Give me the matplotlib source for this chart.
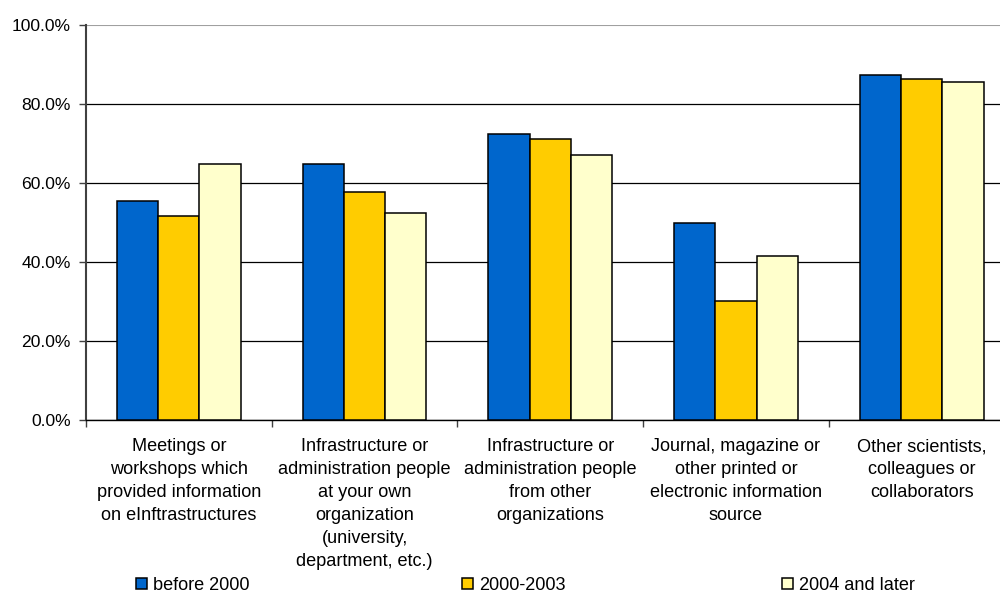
import matplotlib
matplotlib.use("Agg")
import matplotlib.pyplot as plt
import numpy as np
from matplotlib.ticker import FuncFormatter

plt.rcParams['font.family'] = ['Liberation Sans', 'DejaVu Sans']

categories = [
    "Meetings or\nworkshops which\nprovided information\non eInftrastructures",
    "Infrastructure or\nadministration people\nat your own\norganization\n(university,\ndepartment, etc.)",
    "Infrastructure or\nadministration people\nfrom other\norganizations",
    "Journal, magazine or\nother printed or\nelectronic information\nsource",
    "Other scientists,\ncolleagues or\ncollaborators",
]
series_names = ["before 2000", "2000-2003", "2004 and later"]
before_2000 = [55.5, 64.9, 72.4, 49.9, 87.4]
y2000_2003 = [51.8, 57.8, 71.1, 30.3, 86.3]
y2004_later = [64.9, 52.5, 67.2, 41.6, 85.6]
colors = ["#0066CC", "#FFCC00", "#FFFFCC"]
y_ticks = [0, 20, 40, 60, 80, 100]

FS_Y = 12.6
FS_CAT = 13.1

fig = plt.figure(figsize=(10, 5.95), dpi=100)
W, H = 1000, 595
left_px, right_px, top_px, bot_px = 86, 1014.5, 25.3, 420.3
ax = fig.add_axes([left_px / W, 1 - bot_px / H,
                   (right_px - left_px) / W, (bot_px - top_px) / H])

x = np.arange(len(categories))
bw = 2 / 9
bars = []
for k, (vals, c) in enumerate(zip([before_2000, y2000_2003, y2004_later], colors)):
    b = ax.bar(x + (k - 1) * bw, vals, width=bw, color=c, edgecolor="black",
               linewidth=1.1, label=series_names[k], zorder=3)
    bars.append(b)

ax.set_xlim(-0.5, len(categories) - 0.5)
ax.set_ylim(0, 100)
ax.set_yticks(y_ticks)
ax.yaxis.set_major_formatter(FuncFormatter(lambda v, p: f"{v:.1f}%"))
ax.tick_params(axis="y", direction="out", length=5, width=1, color="#404040",
               pad=6, labelsize=FS_Y)
ax.grid(axis="y", color="black", linewidth=0.9, zorder=1)
ax.set_axisbelow(True)
ax.yaxis.get_gridlines()[-1].set_color("#a0a0a0")
ax.yaxis.get_gridlines()[-1].set_linewidth(1.5)

ax.set_xticks(np.arange(-0.5, len(categories) + 0.5, 1.0))
ax.set_xticklabels([])
ax.tick_params(axis="x", direction="out", length=5, width=1, color="#404040")

for s in ["top", "right"]:
    ax.spines[s].set_visible(False)
ax.spines["left"].set_color("#404040")
ax.spines["left"].set_linewidth(1.5)
ax.spines["bottom"].set_color("black")
ax.spines["bottom"].set_linewidth(1.0)

for i, lab in enumerate(categories):
    ax.annotate(lab, xy=(i, 0), xycoords=("data", "axes fraction"),
                xytext=(0, -13), textcoords="offset points",
                ha="center", va="top", fontsize=FS_CAT, linespacing=1.45,
                annotation_clip=False)

legend_x = [136, 462, 782]
for k in range(3):
    fig.legend([bars[k]], [series_names[k]], loc="center left",
               bbox_to_anchor=(legend_x[k] / W, 1 - 585.5 / H),
               frameon=False, fontsize=FS_CAT, handlelength=0.62, handleheight=0.62,
               handletextpad=0.3, borderpad=0, borderaxespad=0)

fig.savefig("out.png", dpi=100)
